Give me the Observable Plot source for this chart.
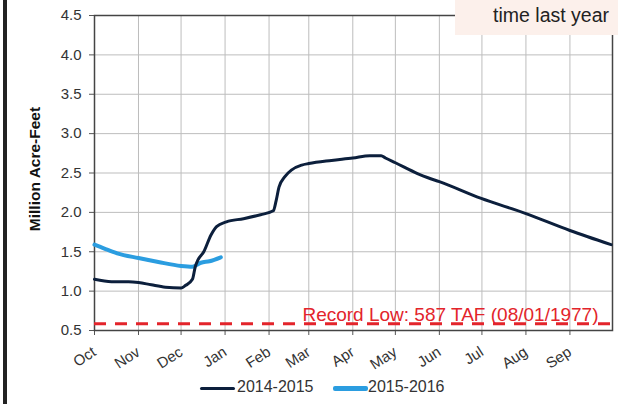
<!DOCTYPE html>
<html>
<head>
<meta charset="utf-8">
<script src="https://cdn.jsdelivr.net/npm/d3@7"></script>
<script src="https://cdn.jsdelivr.net/npm/@observablehq/plot@0.6"></script>
<style>
  html, body { margin: 0; padding: 0; background: #fff; }
  #wrap { position: relative; width: 618px; height: 404px; overflow: hidden; font-family: 'Liberation Sans', Arial, sans-serif; }
  #chart { position: absolute; left: 0; top: 0; }
  #bar { position: absolute; left: 3px; top: 0; width: 4px; height: 404px; background: #222; }
  #note { position: absolute; left: 455px; top: 0; width: 163px; height: 35px; background: #fcf0eb; }
  #note span { position: absolute; right: 9px; top: 4px; font-size: 19.5px; color: #222; }
  #legend { position: absolute; left: 0; top: 376px; width: 618px; height: 24px; font-size: 16px; color: #333; }
  .sw { position: absolute; border-radius: 2px; }
  .lt { position: absolute; top: 2px; }
</style>
</head>
<body>
<div id="wrap">
  <div id="chart"></div>
  <div id="bar"></div>
  <div id="note"><span>time last year</span></div>
  <div id="legend"></div>
</div>
<script>
// ---- data ----
const dates1415 = ["2014-10-01","2014-10-13","2014-10-25","2014-11-01","2014-11-10","2014-11-20","2014-12-01","2014-12-04","2014-12-09","2014-12-11","2014-12-13","2014-12-17","2014-12-22","2014-12-26","2015-01-02","2015-01-14","2015-01-26","2015-02-04","2015-02-06","2015-02-08","2015-02-12","2015-02-17","2015-02-24","2015-03-01","2015-03-17","2015-04-01","2015-04-13","2015-04-21","2015-04-24","2015-05-01","2015-05-17","2015-05-24","2015-06-01","2015-06-30","2015-08-01","2015-09-01","2015-09-30"];
const values1415 = [1.15,1.12,1.12,1.11,1.08,1.05,1.04,1.07,1.15,1.31,1.40,1.50,1.71,1.82,1.88,1.92,1.97,2.02,2.15,2.32,2.45,2.54,2.60,2.62,2.66,2.69,2.72,2.72,2.69,2.63,2.49,2.44,2.39,2.18,1.985,1.77,1.59];
const dates1516 = ["2015-10-01","2015-10-08","2015-10-17","2015-11-01","2015-11-15","2015-12-01","2015-12-09","2015-12-15","2015-12-21","2015-12-29"];
const values1516 = [1.59,1.54,1.48,1.42,1.37,1.32,1.31,1.36,1.38,1.43];
const seriesNames = ["2014-2015", "2015-2016"];
const seriesColors = ["#0c1f3c", "#2b9de0"];
const monthTickDates = ["2014-10-01","2014-11-01","2014-12-01","2015-01-01","2015-02-01","2015-03-01","2015-04-01","2015-05-01","2015-06-01","2015-07-01","2015-08-01","2015-09-01","2015-10-01"];
const yTickValues = [0.5,1.0,1.5,2.0,2.5,3.0,3.5,4.0,4.5];
const recordLow = 0.587;
const recordLabel = "Record Low: 587 TAF (08/01/1977)";
const yLabel = "Million Acre-Feet";

// ---- build ----
const parse = d3.utcParse("%Y-%m-%d");
const months = monthTickDates.map(parse);
const s1 = dates1415.map((d, i) => ({date: parse(d), value: values1415[i]}));
// plot the 2015-2016 water year on the same Oct–Sep axis
const s2 = dates1516.map((d, i) => ({date: d3.utcYear.offset(parse(d), -1), value: values1516[i]}));
const red = "#e3242b";

const chart = Plot.plot({
  width: 618,
  height: 372,
  marginLeft: 94,
  marginRight: 6,
  marginTop: 15,
  marginBottom: 42,
  style: {fontFamily: "'Liberation Sans', Arial, sans-serif", fontSize: "15px", color: "#333", background: "transparent", overflow: "visible"},
  x: {type: "utc", domain: [months[0], months[months.length - 1]]},
  y: {domain: [0.5, 4.5]},
  marks: [
    Plot.gridX(months, {stroke: "#bdbdbd", strokeOpacity: 1}),
    Plot.gridY(yTickValues, {stroke: "#bdbdbd", strokeOpacity: 1}),
    Plot.axisY(yTickValues, {tickFormat: d3.format(".1f"), tickSize: 5, tickPadding: 8, label: null, fontSize: 15, stroke: "#555"}),
    Plot.axisX(months.slice(0, 12), {tickFormat: d3.utcFormat("%b"), tickRotate: -33, tickSize: 5, tickPadding: 15, label: null, fontSize: 15, stroke: "#555"}),
    Plot.frame({stroke: "#444", strokeWidth: 1.5}),
    Plot.ruleY([recordLow], {stroke: red, strokeWidth: 3, strokeDasharray: "12,9"}),
    Plot.text([recordLabel], {x: () => months[12], y: () => recordLow, text: d => d, textAnchor: "end", dx: -14, dy: -9, fill: red, fontSize: 19}),
    Plot.line(s2, {x: "date", y: "value", stroke: seriesColors[1], strokeWidth: 4, curve: "monotone-x"}),
    Plot.line(s1, {x: "date", y: "value", stroke: seriesColors[0], strokeWidth: 3, curve: "monotone-x"}),
    Plot.text([yLabel], {frameAnchor: "left", textAnchor: "middle", dx: -59, dy: -4, rotate: -90, text: d => d, fontWeight: "bold", fontSize: 15.5, fill: "#111"})
  ]
});
document.getElementById("chart").appendChild(chart);

// legend
const legend = document.getElementById("legend");
const lg = [
  {x: 200, w: 35, h: 3, text: 237},
  {x: 333, w: 35, h: 5, text: 368}
];
seriesNames.forEach((name, i) => {
  const sw = document.createElement("div");
  sw.className = "sw";
  sw.style.left = lg[i].x + "px";
  sw.style.width = lg[i].w + "px";
  sw.style.height = lg[i].h + "px";
  sw.style.top = (12 - lg[i].h / 2) + "px";
  sw.style.background = seriesColors[i];
  legend.appendChild(sw);
  const t = document.createElement("span");
  t.className = "lt";
  t.style.left = lg[i].text + "px";
  t.textContent = name;
  legend.appendChild(t);
});
</script>
</body>
</html>
